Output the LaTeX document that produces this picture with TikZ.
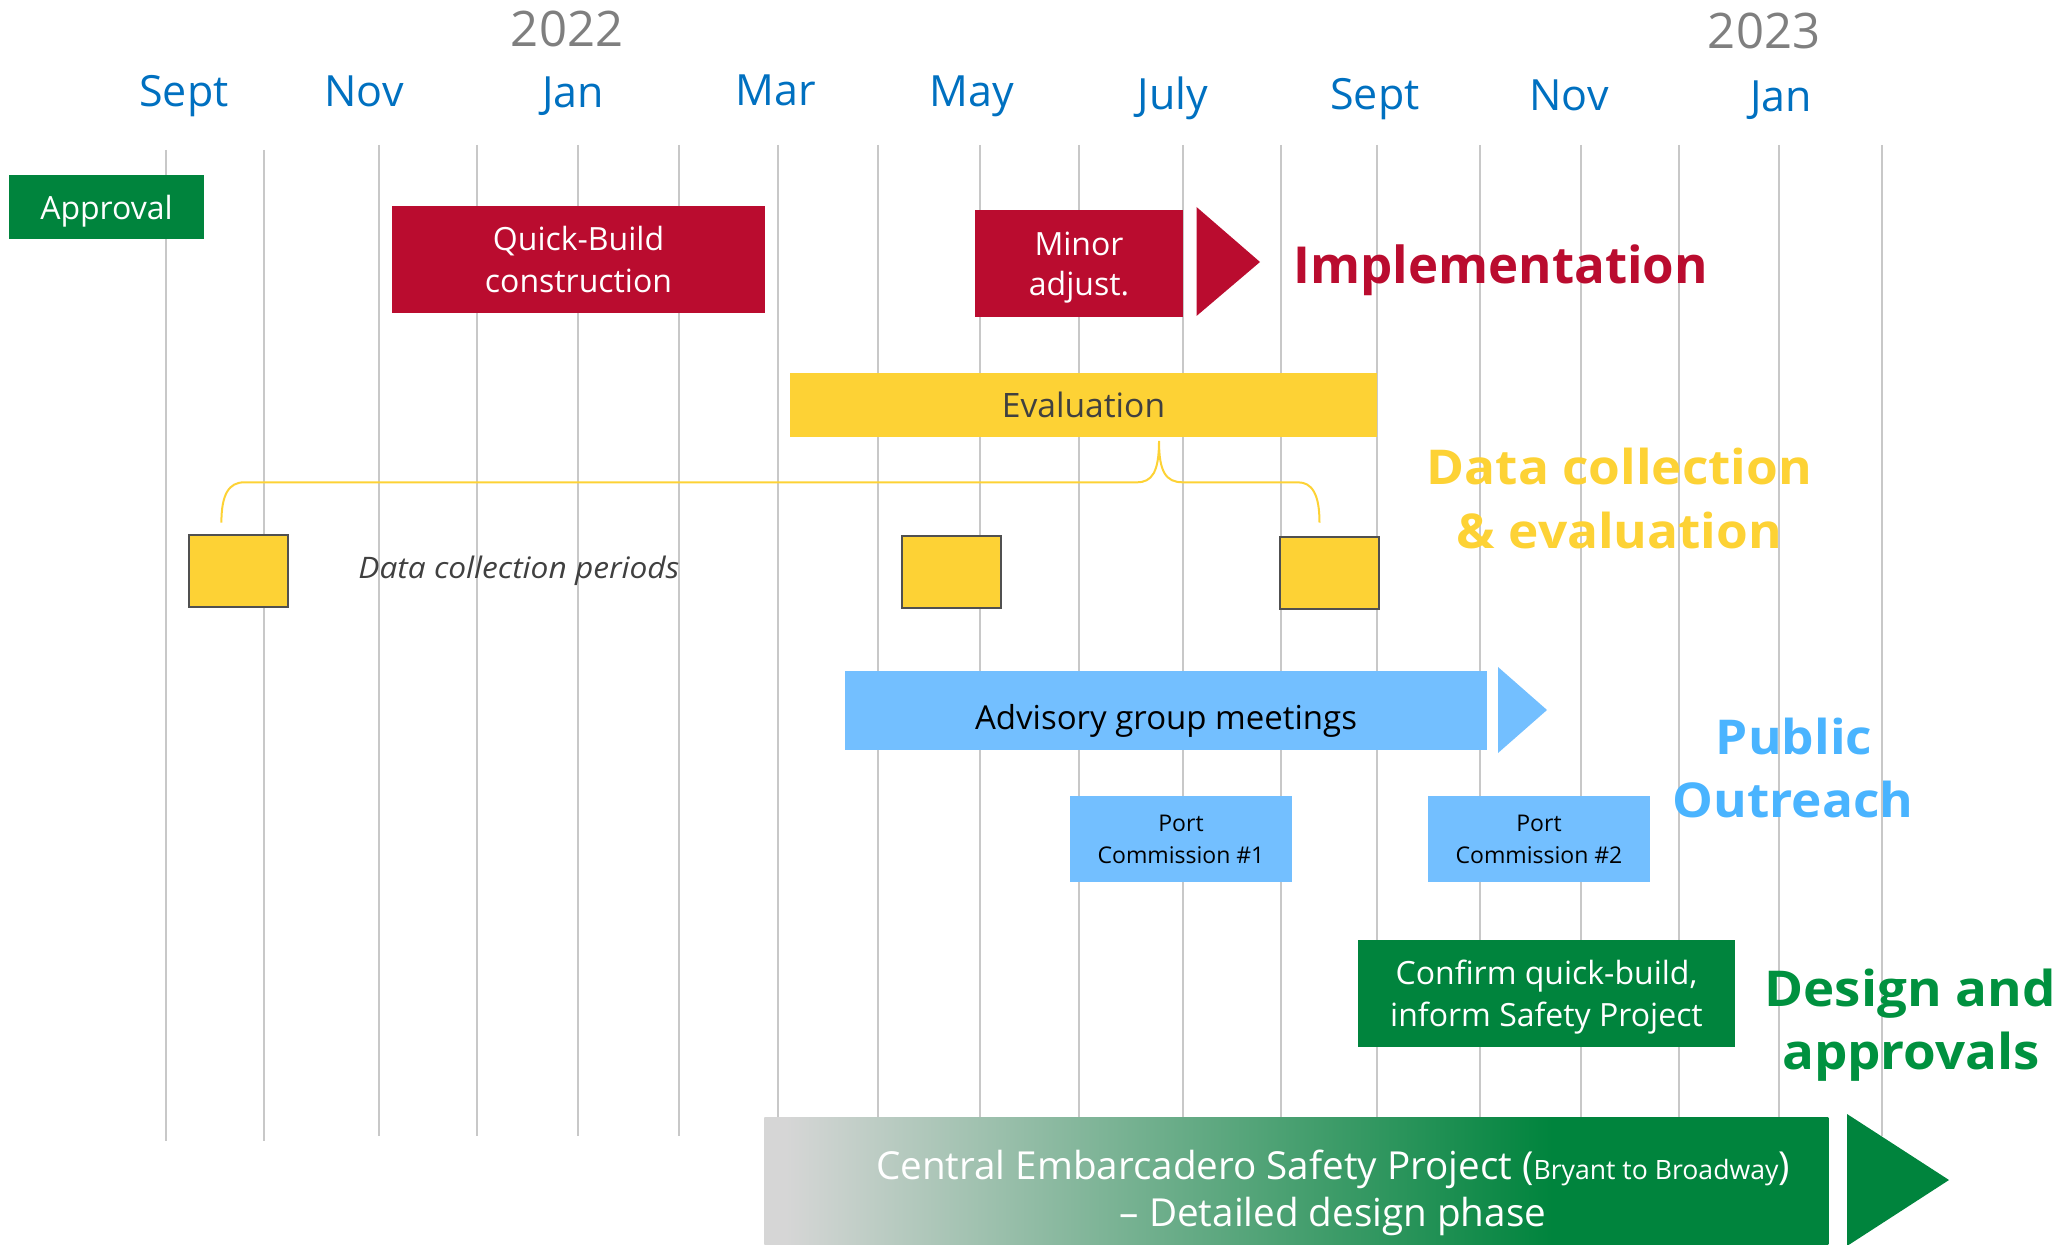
\documentclass[tikz,border=0pt]{standalone}
\usepackage{fontspec}
\setmainfont{Open Sans}
\newfontfamily\widesans[FakeStretch=1.07]{Open Sans}
\definecolor{gridgray}{HTML}{C8C8C8}
\definecolor{monthblue}{HTML}{0070C0}
\definecolor{yeargray}{HTML}{7F7F7F}
\definecolor{implred}{HTML}{BA0C2F}
\definecolor{datayellow}{HTML}{FDD235}
\definecolor{boxedge}{HTML}{505050}
\definecolor{darktext}{HTML}{404040}
\definecolor{outreachbox}{HTML}{73BFFF}
\definecolor{outreachtext}{HTML}{4AB4FF}
\definecolor{approvegreen}{HTML}{00843D}
\definecolor{designgreen}{HTML}{00913F}
\definecolor{fadegray}{HTML}{D6D6D6}
\pgfdeclarehorizontalshading{designgrad}{100bp}{%
  color(0bp)=(fadegray); color(26bp)=(fadegray);
  color(62bp)=(approvegreen); color(100bp)=(approvegreen)}
\newcommand{\fsz}[1]{\fontsize{#1}{1.2\dimexpr#1\relax}\selectfont}
\tikzset{
  gridline/.style={draw=gridgray, line width=1pt},
  month/.style={text=monthblue, font=\fsz{21.5pt}, anchor=base, inner sep=0pt},
  yearlbl/.style={text=yeargray, font=\fsz{24.5pt}, anchor=base, inner sep=0pt},
  barbox/.style={inner sep=0pt, align=center},
  phase/.style={font=\widesans\bfseries\fsz{24pt}, anchor=base, inner sep=0pt},
  samplebox/.style={fill=datayellow, draw=boxedge, line width=1pt, inner sep=0pt,
    minimum width=49.5pt, minimum height=36pt},
  bracket/.style={draw=datayellow, line width=1pt},
}
\begin{document}
\begin{tikzpicture}[x=0.5pt, y=-0.5pt]
\useasboundingbox (0,0) rectangle (2062,1245);

% month grid
\foreach \gx/\gt/\gb in {165.7/150/1141, 264.3/150/1141, 378.7/145/1136,
  477.3/145/1136, 578.3/145/1136, 678.5/145/1136, 777.5/145/1136,
  878/145/1136, 979.6/145/1136, 1078.8/145/1136, 1183.4/145/1136,
  1280.8/145/1136, 1376.8/145/1136, 1479.7/145/1136, 1580.7/145/1136,
  1679.4/145/1136, 1779.4/145/1136, 1881.7/145/1136}
  \draw[gridline] (\gx,\gt) -- (\gx,\gb);

% years and months
\node[yearlbl] (y2022) at (567,47) {2022};
\node[yearlbl] (y2023) at (1764,49) {2023};
\node[month] (m1) at (184,107) {Sept};
\node[month] (m2) at (364,107) {Nov};
\node[month] (m3) at (573,108) {Jan};
\node[month] (m4) at (776,106) {Mar};
\node[month] (m5) at (972,107) {May};
\node[month] (m6) at (1173,110) {July};
\node[month] (m7) at (1375,110) {Sept};
\node[month] (m8) at (1569,111) {Nov};
\node[month] (m9) at (1781,112) {Jan};

% implementation
\node[barbox, fill=approvegreen, text=white, font=\fsz{16pt}, text depth=0pt,
  minimum width=97.5pt, minimum height=32pt] (approval) at (106.5,207) {Approval};
\node[barbox, fill=implred, text=white, font=\fontsize{16pt}{20.8pt}\selectfont,
  minimum width=186.5pt, minimum height=53.5pt] (quick) at (578.5,259.5)
  {Quick-Build\\construction};
\node[barbox, fill=implred, text=white, font=\fontsize{16pt}{20pt}\selectfont,
  text depth=0pt, minimum width=104pt, minimum height=53.5pt] (minor) at (1079,263.5)
  {Minor\\adjust.};
\fill[implred] (1196.5,207) -- (1260,262) -- (1196.5,316) -- cycle;
\node[phase, text=implred, anchor=base west, font=\bfseries\fsz{25.5pt}] (impl) at (1293,283.3) {Implementation};

% data collection and evaluation
\node[barbox, fill=datayellow, text=darktext, font=\fsz{16.8pt},
  minimum width=293.5pt, minimum height=32pt] (evalbar) at (1083.5,405) {Evaluation};
\node[samplebox] (s1) at (238.5,571) {};
\node[samplebox] (s2) at (951,572) {};
\node[samplebox] (s3) at (1329,573) {};
\coordinate (bl) at (221.4,522.7);
\coordinate (br) at (1319.5,522.7);
\coordinate (btip) at (1159,441);
\draw[bracket] (bl) .. controls (221.4,494) and (229,482.3) .. (244.4,482.3)
  -- (1137,482.3) .. controls (1152,482.3) and (1159,472) .. (btip)
  .. controls (1159,472) and (1166,482.3) .. (1182.7,482.3)
  -- (1297.8,482.3) .. controls (1312,482.3) and (1319.5,494) .. (br);
\node[anchor=base west, inner sep=0pt, text=darktext, font=\widesans\itshape\fsz{14.8pt}]
  (periods) at (358,578.3) {Data collection periods};
\node[phase, text=datayellow] (dc1) at (1619.5,484.3) {Data collection};
\node[phase, text=datayellow] (dc2) at (1619.5,548.3) {\& evaluation};

% public outreach
\node[barbox, fill=outreachbox, text=black, font=\fsz{16.5pt},
  text height=18.8pt, text depth=0pt,
  minimum width=321pt, minimum height=39.5pt] (advisory) at (1166,710.5)
  {Advisory group meetings};
\fill[outreachbox] (1498,667) -- (1547,710) -- (1498,753) -- cycle;
\node[barbox, fill=outreachbox, text=black, font=\fontsize{11.5pt}{16pt}\selectfont,
  minimum width=111pt, minimum height=43pt] (pc1) at (1181,839)
  {Port\\Commission \#1};
\node[barbox, fill=outreachbox, text=black, font=\fontsize{11.5pt}{16pt}\selectfont,
  minimum width=111pt, minimum height=43pt] (pc2) at (1539,839)
  {Port\\Commission \#2};
\node[phase, text=outreachtext] (po1) at (1794,754.3) {Public};
\node[phase, text=outreachtext] (po2) at (1793,817.7) {Outreach};

% design and approvals
\node[barbox, fill=approvegreen, text=white, font=\fontsize{16pt}{21pt}\selectfont,
  text depth=0pt, minimum width=188.5pt, minimum height=53.5pt] (confirm) at (1546.5,993.5)
  {Confirm quick-build,\\inform Safety Project};
\node[phase, text=designgreen, font=\widesans\bfseries\fsz{24.7pt}] (da1) at (1910,1006) {Design and};
\node[phase, text=designgreen, font=\widesans\bfseries\fsz{24.7pt}] (da2) at (1911,1069.5) {approvals};
\node[shade, shading=designgrad, inner sep=0pt, minimum width=532pt,
  minimum height=72pt, anchor=north west] (detail) at (764,1117) {};
\fill[approvegreen] (1847,1114) -- (1949,1180) -- (1847,1246) -- cycle;
\node[anchor=base, inner sep=0pt, text=white, font=\fsz{19.3pt}] (dt1) at (1333,1179)
  {Central Embarcadero Safety Project ({\fsz{13.3pt}Bryant to Broadway})};
\node[anchor=base, inner sep=0pt, text=white, font=\fsz{19.3pt}] (dt2) at (1333,1226.5)
  {– Detailed design phase};
\end{tikzpicture}
\end{document}
